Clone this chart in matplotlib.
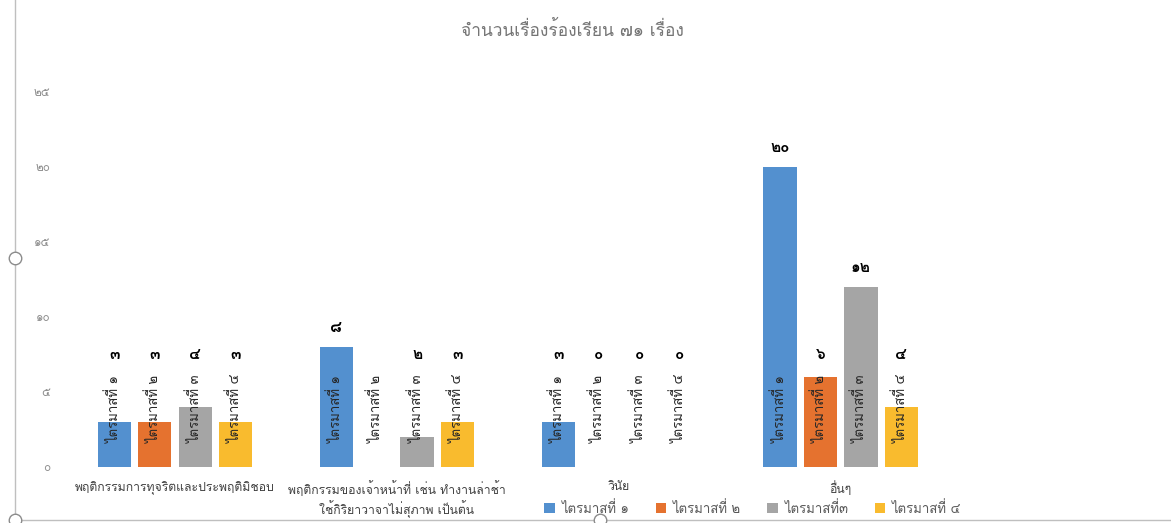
import matplotlib
matplotlib.use('Agg')
import matplotlib.pyplot as plt
from matplotlib import font_manager
from matplotlib.ft2font import FT2Font
import numpy as np

# data
categories = ['พฤติกรรมการทุจริตและประพฤติมิชอบ',
              'พฤติกรรมของเจ้าหน้าที่ เช่น ทำงานล่าช้า\nใช้กิริยาวาจาไม่สุภาพ เป็นต้น',
              'วินัย',
              'อื่นๆ']
series_names = ['ไตรมาสที่ ๑', 'ไตรมาสที่ ๒', 'ไตรมาสที่๓', 'ไตรมาสที่ ๔']
bar_names = ['ไตรมาสที่ ๑', 'ไตรมาสที่ ๒', 'ไตรมาสที่ ๓', 'ไตรมาสที่ ๔']
q1 = [3, 8, 3, 20]
q2 = [3, None, 0, 6]
q3 = [4, 2, 0, 12]
q4 = [3, 3, 0, 4]
yticks = [0, 5, 10, 15, 20, 25]
title = 'จำนวนเรื่องร้องเรียน ๗๑ เรื่อง'

colors = ['#5390CF', '#E5722F', '#A5A5A5', '#F9BB2E']
THAI_DIGITS = '๐๑๒๓๔๕๖๗๘๙'


def thai_num(n):
    return ''.join(THAI_DIGITS[int(c)] for c in str(n))


def find_thai_fonts():
    found = []
    for f in font_manager.fontManager.ttflist:
        try:
            ft = FT2Font(f.fname)
            if ft.get_char_index(0x0E01) and ft.get_char_index(0x0E51):
                if f.name not in found:
                    found.append(f.name)
        except Exception:
            pass
    return found


thai_fonts = find_thai_fonts()
prefer = ['Loma', 'Garuda', 'Noto Sans Thai', 'Tlwg Typo', 'Waree']
family = [f for f in prefer if f in thai_fonts] + [f for f in thai_fonts if f not in prefer]
plt.rcParams['font.family'] = family[:1] + ['DejaVu Sans']

fig = plt.figure(figsize=(11.71, 5.23), dpi=100)
ax = fig.add_axes([0.0547, 0.107, 0.758, 0.774])

x = np.arange(len(categories))
width = 0.15
gap = 0.182
all_series = [q1, q2, q3, q4]
for i, vals in enumerate(all_series):
    xs = x + (i - 1.5) * gap
    h = [v if v is not None else 0 for v in vals]
    ax.bar(xs, h, width=width, color=colors[i], label=series_names[i])
    for xi, v in zip(xs, vals):
        ax.text(xi, 1.6, bar_names[i], rotation=90, ha='center', va='bottom',
                fontsize=9.5, color='#262626')
        if v is None:
            continue
        ax.text(xi, max(v + 1.3, 7.5), thai_num(v), ha='center', va='center',
                fontsize=11, fontweight='bold', color='#000000')

ax.set_xlim(-0.5, 3.5)
ax.set_ylim(0, 27)
ax.set_yticks(yticks)
ax.set_yticklabels([thai_num(t) for t in yticks], color='#8c8c8c', fontsize=8.5)
ax.set_xticks(x)
ax.set_xticklabels(categories, fontsize=8.8, color='#404040', linespacing=1.25)
ax.tick_params(length=0)
ax.tick_params(axis='y', pad=10)
ax.tick_params(axis='x', pad=10)
for s in ax.spines.values():
    s.set_visible(False)

fig.text(0.489, 0.942, title, ha='center', va='center', fontsize=12.5, color='#757575')

fig.legend(loc='center', bbox_to_anchor=(0.643, 0.028), ncol=4, frameon=False,
           fontsize=9.5, handlelength=0.8, handleheight=0.8, columnspacing=2.0,
           handletextpad=0.5, labelcolor='#595959')

# word chart frame with selection handles
fig.add_artist(plt.Line2D([0.013, 0.013], [0.0, 1.0], color='#bfbfbf', lw=1))
fig.add_artist(plt.Line2D([0.013, 1.0], [0.006, 0.006], color='#bfbfbf', lw=1))
fig.add_artist(plt.Line2D([0.013, 0.013, 0.512], [0.507, 0.006, 0.006], ls='none',
                          marker='o', markersize=9, markerfacecolor='white',
                          markeredgecolor='#8c8c8c', markeredgewidth=1))

fig.savefig('out.png', dpi=100)
